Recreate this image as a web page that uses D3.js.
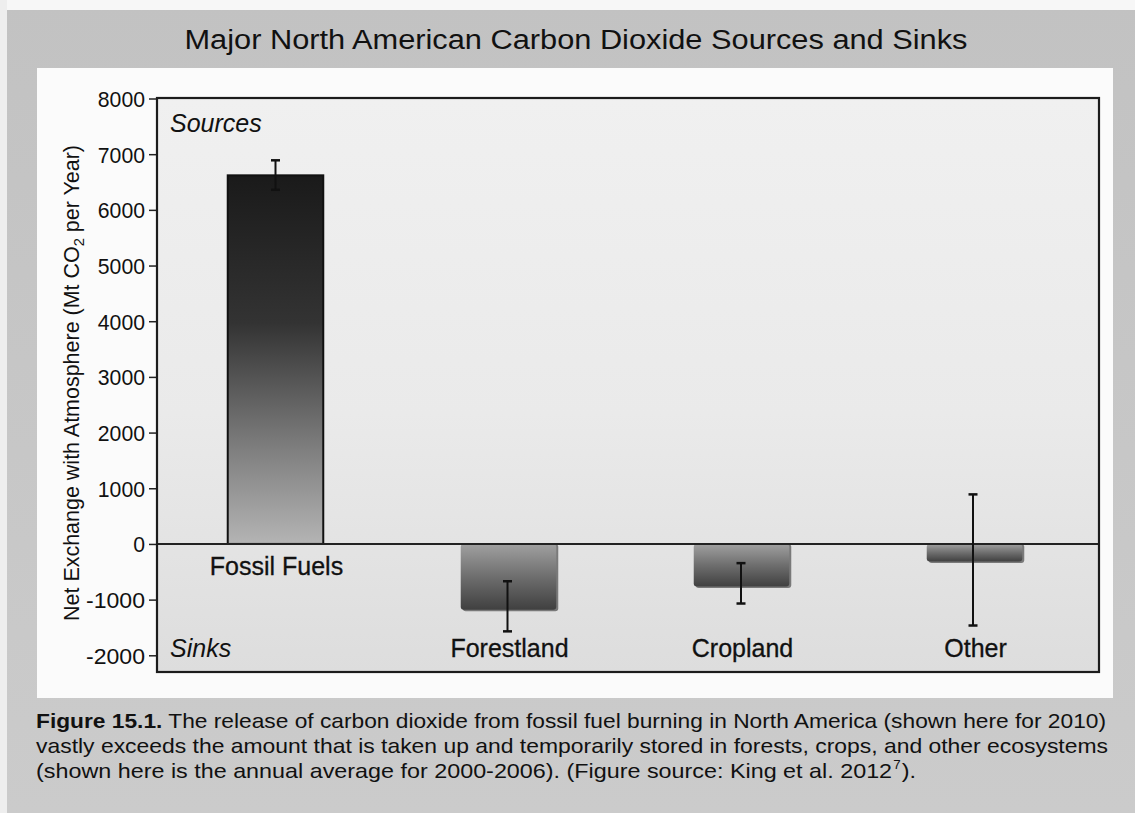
<!DOCTYPE html>
<html>
<head>
<meta charset="utf-8">
<script src="https://cdn.jsdelivr.net/npm/d3@7"></script>
<style>
  html, body { margin: 0; padding: 0; background: #ffffff; }
  svg { display: block; }
  text { font-family: "Liberation Sans", Arial, sans-serif; fill: #111; }
</style>
</head>
<body>
<svg id="chart" width="1135" height="813"></svg>
<script>
// Net CO2 exchange with the atmosphere, Mt CO2 per year
const categories = ["Fossil Fuels", "Forestland", "Cropland", "Other"];
const values     = [6620, -1180, -765, -315];
const errLow     = [6360, -1570, -1070, -1465];
const errHigh    = [6890, -670, -345, 890];
const yTicks     = [8000, 7000, 6000, 5000, 4000, 3000, 2000, 1000, 0, -1000, -2000];

const title = "Major North American Carbon Dioxide Sources and Sinks";
const captionLines = [
  [{t: "Figure 15.1.", b: true}, {t: " The release of carbon dioxide from fossil fuel burning in North America (shown here for 2010)"}],
  [{t: "vastly exceeds the amount that is taken up and temporarily stored in forests, crops, and other ecosystems"}],
  [{t: "(shown here is the annual average for 2000-2006). (Figure source: King et al. 2012"}, {t: "7", sup: true}, {t: ")."}]
];

const W = 1135, H = 813;
const svg = d3.select("#chart");
const defs = svg.append("defs");

// page and panel gradients
const pageGrad = defs.append("linearGradient").attr("id", "page").attr("x1", 0).attr("y1", 0).attr("x2", 0).attr("y2", 1);
pageGrad.append("stop").attr("offset", "0").attr("stop-color", "#c2c2c2");
pageGrad.append("stop").attr("offset", "1").attr("stop-color", "#cbcbcb");

const plotGrad = defs.append("linearGradient").attr("id", "plotbg").attr("x1", 0).attr("y1", 0).attr("x2", 0).attr("y2", 1);
plotGrad.append("stop").attr("offset", "0").attr("stop-color", "#f0f0f0");
plotGrad.append("stop").attr("offset", "0.55").attr("stop-color", "#eaeaea");
plotGrad.append("stop").attr("offset", "1").attr("stop-color", "#dddddd");

const posGrad = defs.append("linearGradient").attr("id", "posbar").attr("x1", 0).attr("y1", 0).attr("x2", 0).attr("y2", 1);
posGrad.append("stop").attr("offset", "0").attr("stop-color", "#1a1a1a");
posGrad.append("stop").attr("offset", "0.4").attr("stop-color", "#333333");
posGrad.append("stop").attr("offset", "0.75").attr("stop-color", "#808080");
posGrad.append("stop").attr("offset", "1").attr("stop-color", "#b4b4b4");

const negGrad = defs.append("linearGradient").attr("id", "negbar").attr("x1", 0).attr("y1", 0).attr("x2", 0).attr("y2", 1);
negGrad.append("stop").attr("offset", "0").attr("stop-color", "#a0a0a0");
negGrad.append("stop").attr("offset", "0.5").attr("stop-color", "#6e6e6e");
negGrad.append("stop").attr("offset", "1").attr("stop-color", "#404040");

// page background: gray scan with white strip on top and white chart panel
svg.append("rect").attr("x", 0).attr("y", 0).attr("width", W).attr("height", H).attr("fill", "url(#page)");
svg.append("rect").attr("x", 0).attr("y", 0).attr("width", W).attr("height", 10).attr("fill", "#f7f7f7");
svg.append("rect").attr("x", 0).attr("y", 0).attr("width", 7).attr("height", H).attr("fill", "#eeeeee");
svg.append("rect").attr("x", 37).attr("y", 68).attr("width", 1076).attr("height", 630).attr("fill", "#fbfbfb");

// title
svg.append("text")
  .attr("x", 576).attr("y", 49)
  .attr("text-anchor", "middle")
  .attr("font-size", 27)
  .attr("textLength", 783).attr("lengthAdjust", "spacingAndGlyphs")
  .text(title);

// plot area
const plot = {left: 157, right: 1099, top: 98, bottom: 672};
const y = d3.scaleLinear().domain([-2300, 8000]).range([plot.bottom, plot.top + 0.5]);
const x = d3.scaleBand().domain(categories).range([159, 1091]).paddingInner(0.59).paddingOuter(0.295);

svg.append("rect")
  .attr("x", plot.left).attr("y", plot.top)
  .attr("width", plot.right - plot.left).attr("height", plot.bottom - plot.top)
  .attr("fill", "url(#plotbg)");

// y axis (plain hyphen for negative numbers)
const yAxis = d3.axisLeft(y).tickValues(yTicks).tickSize(8).tickPadding(4).tickFormat(d => String(d));
const gy = svg.append("g").attr("transform", `translate(${plot.left},0)`).call(yAxis);
gy.select(".domain").remove();
gy.selectAll(".tick line").attr("stroke", "#222").attr("stroke-width", 1.5);
gy.selectAll(".tick text")
  .attr("font-family", "'Liberation Sans', Arial, sans-serif")
  .attr("font-size", 22).attr("fill", "#111")
  .attr("dy", "0.36em")
  .each(function() {
    const s = this.textContent;
    d3.select(this).attr("textLength", s.length * 11.8).attr("lengthAdjust", "spacingAndGlyphs");
  });

// bars
const data = categories.map((c, i) => ({c, v: values[i], lo: errLow[i], hi: errHigh[i]}));
const bars = svg.append("g");
data.forEach(d => {
  const bx = x(d.c), bw = x.bandwidth();
  if (d.v >= 0) {
    bars.append("rect")
      .attr("x", bx).attr("y", y(d.v))
      .attr("width", bw).attr("height", y(0) - y(d.v))
      .attr("fill", "url(#posbar)")
      .attr("stroke", "#111").attr("stroke-width", 2);
  } else {
    const h = y(d.v) - y(0);
    // soft shadow on the right and bottom
    bars.append("rect")
      .attr("x", bx + 2).attr("y", y(0))
      .attr("width", bw).attr("height", h + 1.5)
      .attr("rx", 3).attr("fill", "#333").attr("opacity", 0.6);
    bars.append("rect")
      .attr("x", bx).attr("y", y(0))
      .attr("width", bw).attr("height", h)
      .attr("rx", 3)
      .attr("fill", "url(#negbar)");
  }
});

// zero line and frame
svg.append("line")
  .attr("x1", plot.left).attr("x2", plot.right)
  .attr("y1", y(0)).attr("y2", y(0))
  .attr("stroke", "#222").attr("stroke-width", 2);
svg.append("rect")
  .attr("x", plot.left).attr("y", plot.top)
  .attr("width", plot.right - plot.left).attr("height", plot.bottom - plot.top)
  .attr("fill", "none").attr("stroke", "#1c1c1c").attr("stroke-width", 2.2);

// error bars
const errOffset = [0, -1, -0.5, -1.5];
const eg = svg.append("g").attr("stroke", "#111").attr("stroke-width", 2);
data.forEach((d, i) => {
  const cx = x(d.c) + x.bandwidth() / 2 + errOffset[i];
  eg.append("line").attr("x1", cx).attr("x2", cx).attr("y1", y(d.hi)).attr("y2", y(d.lo));
  eg.append("line").attr("x1", cx - 4.5).attr("x2", cx + 4.5).attr("y1", y(d.hi)).attr("y2", y(d.hi)).attr("stroke-width", 2.5);
  eg.append("line").attr("x1", cx - 4.5).attr("x2", cx + 4.5).attr("y1", y(d.lo)).attr("y2", y(d.lo)).attr("stroke-width", 2.5);
});

// category labels
data.forEach(d => {
  const cx = x(d.c) + x.bandwidth() / 2 + 1;
  svg.append("text")
    .attr("x", cx)
    .attr("y", d.v >= 0 ? y(0) + 31 : plot.bottom - 15)
    .attr("text-anchor", "middle")
    .attr("font-size", 25)
    .attr("stroke", "#111").attr("stroke-width", 0.3)
    .text(d.c);
});

// region labels
svg.append("text").attr("x", 170).attr("y", 132).attr("font-size", 25).attr("font-style", "italic").text("Sources");
svg.append("text").attr("x", 170).attr("y", 657).attr("font-size", 25).attr("font-style", "italic").text("Sinks");

// y axis title with subscript
const yt = svg.append("text")
  .attr("transform", "translate(79,383) rotate(-90)")
  .attr("text-anchor", "middle")
  .attr("font-size", 22)
  .attr("textLength", 476).attr("lengthAdjust", "spacingAndGlyphs");
yt.append("tspan").text("Net Exchange with Atmosphere (Mt CO");
yt.append("tspan").attr("font-size", 15).attr("dy", 5).text("2");
yt.append("tspan").attr("dy", -5).text(" per Year)");

// caption
const capWidths = [1070, 1072, 880];
captionLines.forEach((line, i) => {
  const t = svg.append("text")
    .attr("x", 36).attr("y", 728 + i * 25)
    .attr("font-size", 21)
    .attr("textLength", capWidths[i]).attr("lengthAdjust", "spacingAndGlyphs");
  line.forEach(seg => {
    const s = t.append("tspan").text(seg.t);
    if (seg.b) s.attr("font-weight", "bold");
    if (seg.sup) s.attr("font-size", 12).attr("dy", -9).attr("dx", 1);
    else if (seg.t === ").") s.attr("dy", 9).attr("dx", 1);
  });
});
</script>
</body>
</html>
